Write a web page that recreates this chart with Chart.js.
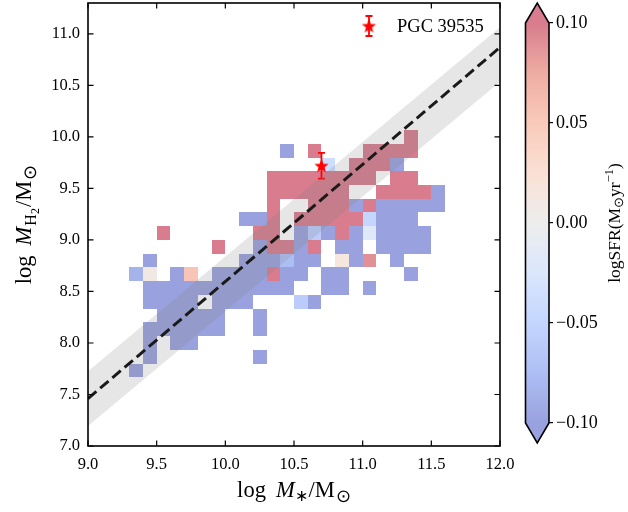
<!DOCTYPE html>
<html>
<head>
<meta charset="utf-8">
<script src="https://cdn.jsdelivr.net/npm/chart.js@4.4.1/dist/chart.umd.min.js"></script>
<style>
  html, body { margin: 0; padding: 0; background: #fff; }
  #wrap { position: relative; width: 628px; height: 512px; }
  #main { position: absolute; left: 0; top: 0; width: 628px; height: 512px; }
  #cbar { position: absolute; left: 500px; top: 0; width: 128px; height: 512px; }
</style>
</head>
<body>
<div id="wrap">
  <canvas id="main" width="628" height="512"></canvas>
  <canvas id="cbar" width="128" height="512"></canvas>
</div>
<script>
// 2-d histogram grid: log M* along x, log M_H2 along y
const massBinStart = 9.0;
const massBinWidth = 0.1;
const gasBinStart = 7.0;
const gasBinWidth = 4 / 30;

// filled bins, one row at a time: row index, column indices, mean logSFR per bin
const gasRows = [5, 6, 7, 8, 9, 10, 11, 12, 13, 14, 15, 16, 17, 18, 19, 20, 21, 22];
const rowCols = [
  [3],
  [4, 12],
  [4, 6, 7],
  [4, 5, 6, 7, 8, 9, 12],
  [5, 6, 7, 8, 9, 12],
  [4, 5, 6, 7, 9, 10, 11, 15, 16],
  [4, 5, 6, 7, 8, 9, 10, 11, 12, 13, 14, 17, 18, 20],
  [3, 4, 6, 7, 9, 10, 11, 12, 13, 14, 15, 17, 18, 23],
  [4, 11, 12, 13, 14, 15, 16, 18, 19, 20, 22],
  [9, 12, 13, 14, 15, 16, 18, 19, 21, 22, 23, 24],
  [5, 12, 13, 15, 16, 17, 18, 19, 20, 21, 22, 23, 24],
  [11, 12, 13, 15, 16, 17, 18, 19, 20, 21, 22, 23],
  [13, 16, 17, 18, 19, 20, 21, 22, 23, 24, 25],
  [13, 14, 15, 16, 17, 18, 21, 22, 23, 24, 25],
  [13, 14, 15, 16, 17, 18, 19, 20, 22, 23],
  [17, 19, 20, 21, 22],
  [14, 16, 20, 21, 22, 23],
  [23]
];
const rowSfr = [
  [-0.1],
  [-0.1, -0.1],
  [-0.1, -0.1, -0.1],
  [-0.1, -0.1, -0.1, -0.1, -0.1, -0.1, -0.1],
  [-0.1, -0.1, -0.1, -0.1, -0.1, -0.1],
  [-0.1, -0.1, -0.1, -0.1, -0.1, -0.1, -0.1, -0.06, -0.1],
  [-0.1, -0.1, -0.1, -0.1, -0.1, -0.1, -0.1, -0.1, -0.1, -0.1, -0.1, -0.1, -0.1, -0.1],
  [-0.085, 0.01, -0.1, 0.055, -0.1, -0.1, -0.1, -0.1, 0.1, -0.1, -0.1, -0.1, -0.1, -0.1],
  [-0.1, -0.1, -0.1, -0.1, -0.075, -0.1, -0.1, 0.015, -0.1, 0.09, -0.1],
  [0.1, -0.1, 0.1, 0.1, -0.1, 0.1, -0.1, -0.1, -0.1, -0.1, -0.1, -0.1],
  [0.1, 0.1, 0.1, -0.1, -0.06, -0.1, 0.1, -0.1, -0.02, -0.1, -0.1, -0.1, -0.1],
  [-0.1, -0.1, 0.1, 0.1, 0.1, 0.1, 0.1, 0.1, -0.05, -0.1, -0.1, -0.1],
  [0.1, 0.1, 0.1, 0.1, -0.1, 0.1, -0.1, -0.1, -0.1, -0.1, -0.1],
  [0.1, 0.1, 0.1, 0.1, 0.1, 0.1, 0.1, 0.1, 0.1, 0.1, -0.1],
  [0.1, 0.1, 0.1, 0.1, 0.1, 0.1, 0.1, 0.1, 0.1, 0.1],
  [-0.04, 0.1, 0.1, 0.1, -0.1],
  [-0.1, 0.1, 0.1, 0.1, 0.1, 0.1],
  [0.1]
];

// best-fit relation (dashed) and the scatter band around the reference relation
const fitMass = [9.0, 12.0];
const fitGas = [7.46, 10.87];
const bandGas = [7.46, 10.80];
const bandScatter = 0.265;

// PGC 39535
const pgcMass = [10.7];
const pgcGas = [9.72];
const pgcGasErr = [0.125];

// axis ranges and tick steps
const massRange = [9.0, 12.0];
const gasRange = [7.0, 11.3];
const massTickStep = 0.5;
const gasTickStep = 0.5;
const sfrRange = [-0.1, 0.1];
const sfrTickStep = 0.05;

const serif = "'Liberation Serif', 'Times New Roman', serif";
Chart.defaults.font.family = serif;
Chart.defaults.color = '#000';

// coolwarm colour map, drawn at half opacity over white
const coolwarm = [
  [59, 76, 192], [98, 130, 234], [141, 176, 254], [184, 208, 249], [221, 221, 221],
  [245, 196, 173], [244, 154, 123], [222, 96, 77], [180, 4, 38]
];
const cellAlpha = 0.52;

function mapColour(t) {
  t = Math.min(1, Math.max(0, t));
  const p = t * (coolwarm.length - 1);
  const k = Math.min(coolwarm.length - 2, Math.floor(p));
  const f = p - k;
  return coolwarm[k].map((c, n) => c + (coolwarm[k + 1][n] - c) * f);
}

function sfrColour(v) {
  const t = (v - sfrRange[0]) / (sfrRange[1] - sfrRange[0]);
  const rgb = mapColour(t).map(c => Math.round(255 - cellAlpha * (255 - c)));
  return `rgb(${rgb[0]},${rgb[1]},${rgb[2]})`;
}

// filled five-point star used for the PGC 39535 marker
function makeStar(size, colour) {
  const c = document.createElement('canvas');
  c.width = size;
  c.height = size;
  const g = c.getContext('2d');
  const r = size / 2;
  g.beginPath();
  for (let k = 0; k < 10; k++) {
    const a = -Math.PI / 2 + k * Math.PI / 5;
    const rr = k % 2 ? r * 0.42 : r;
    g.lineTo(r + rr * Math.cos(a), r + 0.5 + rr * Math.sin(a));
  }
  g.closePath();
  g.fillStyle = colour;
  g.fill();
  return c;
}
const starImg = makeStar(15, '#ff0000');

// text made of pieces in different fonts (sub/superscripts, italics)
function drawRuns(ctx, runs, x, y) {
  let total = 0;
  runs.forEach(r => {
    ctx.font = r.font;
    r.w = ctx.measureText(r.text).width;
    total += r.w + (r.gap || 0);
  });
  let cx = x - total / 2;
  runs.forEach(r => {
    ctx.font = r.font;
    ctx.fillText(r.text, cx, y + (r.dy || 0));
    cx += r.w + (r.gap || 0);
  });
}

function errorBar(ctx, x, yTop, yBottom, cap) {
  ctx.beginPath();
  ctx.moveTo(x, yTop);
  ctx.lineTo(x, yBottom);
  ctx.moveTo(x - cap, yTop);
  ctx.lineTo(x + cap, yTop);
  ctx.moveTo(x - cap, yBottom);
  ctx.lineTo(x + cap, yBottom);
  ctx.stroke();
}

const cellPlugin = {
  id: 'sfrCells',
  beforeDatasetsDraw(chart) {
    const { ctx, scales: { x, y } } = chart;
    ctx.save();
    gasRows.forEach((row, r) => {
      const yLo = Math.round(y.getPixelForValue(gasBinStart + row * gasBinWidth));
      const yHi = Math.round(y.getPixelForValue(gasBinStart + (row + 1) * gasBinWidth));
      rowCols[r].forEach((col, k) => {
        const x0 = Math.round(x.getPixelForValue(massBinStart + col * massBinWidth));
        const x1 = Math.round(x.getPixelForValue(massBinStart + (col + 1) * massBinWidth));
        ctx.fillStyle = sfrColour(rowSfr[r][k]);
        ctx.fillRect(x0, yHi, x1 - x0, yLo - yHi);
      });
    });
    ctx.restore();
  }
};

const errorPlugin = {
  id: 'pgcError',
  beforeDatasetDraw(chart, args) {
    if (args.index !== 3) return;
    const { ctx, scales: { x, y } } = chart;
    ctx.save();
    ctx.strokeStyle = '#ff0000';
    ctx.lineWidth = 1.8;
    pgcMass.forEach((m, k) => {
      errorBar(ctx, x.getPixelForValue(m),
        y.getPixelForValue(pgcGas[k] + pgcGasErr[k]),
        y.getPixelForValue(pgcGas[k] - pgcGasErr[k]), 3.5);
    });
    ctx.restore();
  }
};

const framePlugin = {
  id: 'frame',
  afterDatasetsDraw(chart) {
    const { ctx, chartArea: a, scales: { x, y } } = chart;
    ctx.save();
    ctx.strokeStyle = '#000';
    ctx.lineWidth = 1.2;
    ctx.beginPath();
    x.ticks.forEach(t => {
      const p = x.getPixelForValue(t.value);
      ctx.moveTo(p, a.bottom); ctx.lineTo(p, a.bottom - 5.5);
      ctx.moveTo(p, a.top); ctx.lineTo(p, a.top + 5.5);
    });
    y.ticks.forEach(t => {
      const p = y.getPixelForValue(t.value);
      ctx.moveTo(a.left, p); ctx.lineTo(a.left + 5.5, p);
      ctx.moveTo(a.right, p); ctx.lineTo(a.right - 5.5, p);
    });
    ctx.stroke();
    ctx.lineWidth = 1.6;
    ctx.strokeRect(a.left, a.top, a.right - a.left, a.bottom - a.top);

    // legend entry, top right inside the axes
    const lx = a.right - 131, ly = a.top + 23;
    ctx.strokeStyle = '#ff0000';
    ctx.lineWidth = 1.8;
    errorBar(ctx, lx, ly - 10, ly + 10, 3.5);
    ctx.drawImage(starImg, lx - starImg.width / 2, ly - starImg.height / 2);
    ctx.fillStyle = '#000';
    ctx.font = `18.5px ${serif}`;
    ctx.textBaseline = 'middle';
    ctx.fillText('PGC 39535', a.left + 309, ly + 1);

    // axis titles
    ctx.textBaseline = 'alphabetic';
    const big = `22.5px ${serif}`, bigIt = `italic 22.5px ${serif}`;
    const sub = `16px ${serif}`, subsub = `12px ${serif}`;
    drawRuns(ctx, [
      { text: 'log', font: big, gap: 10 },
      { text: 'M', font: bigIt },
      { text: '\u2217', font: sub, dy: 4, gap: 1 },
      { text: '/M', font: big, gap: 1 },
      { text: '\u2299', font: `18px ${serif}`, dy: 5 }
    ], (a.left + a.right) / 2, 497);

    ctx.save();
    ctx.translate(31, (a.top + a.bottom) / 2);
    ctx.rotate(-Math.PI / 2);
    drawRuns(ctx, [
      { text: 'log', font: big, gap: 10 },
      { text: 'M', font: bigIt, gap: 1 },
      { text: 'H', font: sub, dy: 5 },
      { text: '2', font: subsub, dy: 8, gap: 1 },
      { text: '/M', font: big, gap: 1 },
      { text: '\u2299', font: `18px ${serif}`, dy: 5 }
    ], 0, 0);
    ctx.restore();
    ctx.restore();
  }
};

const tickFont = { family: serif, size: 16.5 };

new Chart(document.getElementById('main'), {
  type: 'scatter',
  data: {
    datasets: [
      {
        data: fitMass.map((m, k) => ({ x: m, y: bandGas[k] + bandScatter })),
        showLine: true, pointRadius: 0, borderWidth: 0,
        fill: '+1', backgroundColor: 'rgba(128,128,128,0.2)'
      },
      {
        data: fitMass.map((m, k) => ({ x: m, y: bandGas[k] - bandScatter })),
        showLine: true, pointRadius: 0, borderWidth: 0, fill: false
      },
      {
        data: fitMass.map((m, k) => ({ x: m, y: fitGas[k] })),
        showLine: true, pointRadius: 0, borderColor: '#000', borderWidth: 3,
        borderDash: [11, 5], fill: false
      },
      {
        data: pgcMass.map((m, k) => ({ x: m, y: pgcGas[k] })),
        pointStyle: starImg, pointRadius: 7
      }
    ]
  },
  options: {
    responsive: false,
    animation: false,
    devicePixelRatio: 1,
    layout: { autoPadding: false, padding: { left: 0, top: 3, right: 128, bottom: 0 } },
    plugins: { legend: { display: false }, tooltip: { enabled: false } },
    scales: {
      x: {
        type: 'linear', min: massRange[0], max: massRange[1],
        grid: { display: false, drawTicks: false },
        border: { display: false },
        ticks: {
          stepSize: massTickStep, includeBounds: false, padding: 9, maxRotation: 0,
          font: tickFont, color: '#000', callback: v => v.toFixed(1)
        },
        afterFit: s => { s.height = 66; s.paddingLeft = 0; s.paddingRight = 0; }
      },
      y: {
        type: 'linear', min: gasRange[0], max: gasRange[1],
        grid: { display: false, drawTicks: false },
        border: { display: false },
        ticks: {
          stepSize: gasTickStep, includeBounds: false, padding: 8,
          font: tickFont, color: '#000', callback: v => v.toFixed(1)
        },
        afterFit: s => { s.width = 88; s.paddingTop = 0; s.paddingBottom = 0; }
      }
    }
  },
  plugins: [cellPlugin, errorPlugin, framePlugin]
});

// colour bar with triangular ends for out-of-range values
const colourbarPlugin = {
  id: 'colourbar',
  afterDraw(chart) {
    const { ctx, chartArea: a } = chart;
    const cx = (a.left + a.right) / 2, tip = 20;
    ctx.save();
    const grad = ctx.createLinearGradient(0, a.bottom, 0, a.top);
    for (let k = 0; k <= 32; k++) {
      grad.addColorStop(k / 32, sfrColour(sfrRange[0] + (sfrRange[1] - sfrRange[0]) * k / 32));
    }
    ctx.fillStyle = grad;
    ctx.fillRect(a.left, a.top, a.right - a.left, a.bottom - a.top);
    ctx.fillStyle = sfrColour(sfrRange[1]);
    ctx.beginPath();
    ctx.moveTo(a.left, a.top); ctx.lineTo(cx, a.top - tip); ctx.lineTo(a.right, a.top);
    ctx.closePath(); ctx.fill();
    ctx.fillStyle = sfrColour(sfrRange[0]);
    ctx.beginPath();
    ctx.moveTo(a.left, a.bottom); ctx.lineTo(cx, a.bottom + tip); ctx.lineTo(a.right, a.bottom);
    ctx.closePath(); ctx.fill();

    ctx.strokeStyle = '#000';
    ctx.lineWidth = 1.6;
    ctx.lineJoin = 'miter';
    ctx.beginPath();
    ctx.moveTo(a.left, a.top); ctx.lineTo(cx, a.top - tip); ctx.lineTo(a.right, a.top);
    ctx.lineTo(a.right, a.bottom); ctx.lineTo(cx, a.bottom + tip); ctx.lineTo(a.left, a.bottom);
    ctx.closePath(); ctx.stroke();

    ctx.fillStyle = '#000';
    ctx.textBaseline = 'alphabetic';
    ctx.translate(120, (a.top + a.bottom) / 2);
    ctx.rotate(-Math.PI / 2);
    const f = `17.5px ${serif}`, s = `12.5px ${serif}`;
    drawRuns(ctx, [
      { text: 'logSFR(M', font: f },
      { text: '\u2299', font: s, dy: 3 },
      { text: 'yr', font: f },
      { text: '\u22121', font: s, dy: -7 },
      { text: ')', font: f }
    ], 0, 0);
    ctx.restore();
  }
};

new Chart(document.getElementById('cbar'), {
  type: 'scatter',
  data: { datasets: [] },
  options: {
    responsive: false,
    animation: false,
    devicePixelRatio: 1,
    layout: { autoPadding: false, padding: { left: 25.5, top: 23, right: 0, bottom: 89 } },
    plugins: { legend: { display: false }, tooltip: { enabled: false } },
    scales: {
      x: { display: false, min: 0, max: 1 },
      y: {
        position: 'right', min: sfrRange[0], max: sfrRange[1],
        grid: { drawOnChartArea: false, tickLength: 4, color: '#000', lineWidth: 1.2 },
        border: { display: false },
        ticks: {
          stepSize: sfrTickStep, includeBounds: false, padding: 3,
          font: { family: serif, size: 18 }, color: '#000',
          callback: v => Math.abs(v) < 1e-9 ? '0.00' : (v < 0 ? '\u2212' : '') + Math.abs(v).toFixed(2)
        },
        afterFit: s => { s.width = 79; s.paddingTop = 0; s.paddingBottom = 0; }
      }
    }
  },
  plugins: [colourbarPlugin]
});
</script>
</body>
</html>
